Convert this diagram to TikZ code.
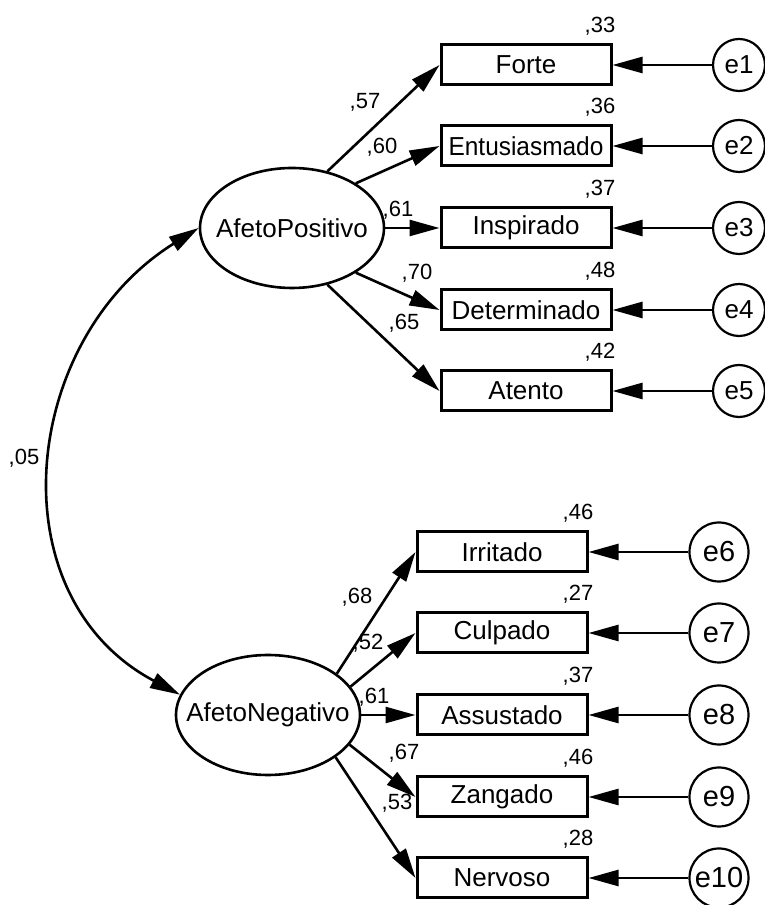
\documentclass[tikz,border=0pt]{standalone}
\usepackage{fontspec}
\setmainfont{Liberation Sans}
\usepackage{graphicx}
\usetikzlibrary{shapes.geometric,arrows.meta}

\begin{document}
\begin{tikzpicture}[x=1pt,y=1pt,
  lbl/.style={font=\fontsize{26}{30}\selectfont},
  num/.style={font=\fontsize{22}{26}\selectfont, inner sep=0},
  obs/.style={draw, line width=3pt, minimum width=170pt, minimum height=40pt, inner sep=0, lbl},
  lat/.style={draw, ellipse, line width=2.6pt, minimum width=184pt, minimum height=120pt, inner sep=0,
              label={[lbl]center:#1}},
  errs/.style={draw, circle, line width=2.2pt, minimum size=52pt, inner sep=0,
               label={[lbl]center:#1}},
  errb/.style={draw, circle, line width=2.2pt, minimum size=59pt, inner sep=0,
               label={[font=\fontsize{29}{34}\selectfont]center:#1}},
  tip/.tip={Triangle[length=30pt,width=16pt]},
  load/.style={line width=2.6pt, -tip},
  r2/.style={num, anchor=base east}
]
\useasboundingbox (0,0) rectangle (765,905);

% latent factors
\node[lat=AfetoPositivo] (AP) at (292,677) {};
\node[lat=AfetoNegativo] (AN) at (268,190) {};

% positive affect indicators
\node[obs] (forte)  at (526,840) {Forte};
\node[obs] (entus)  at (526,759) {\scalebox{0.94}[1]{Entusiasmado}};
\node[obs] (insp)   at (526,677) {Inspirado};
\node[obs] (deter)  at (526,595) {Determinado};
\node[obs] (atento) at (526,514) {Atento};

% negative affect indicators
\node[obs] (irrit) at (502,353) {Irritado};
\node[obs] (culp)  at (502,272) {Culpado};
\node[obs] (assus) at (502,190) {Assustado};
\node[obs] (zang)  at (502,108) {Zangado};
\node[obs] (nerv)  at (502,27)  {Nervoso};

% error terms
\node[errs=e1] (e1) at (739,840) {};
\node[errs=e2] (e2) at (739,759) {};
\node[errs=e3] (e3) at (739,677) {};
\node[errs=e4] (e4) at (739,595) {};
\node[errs=e5] (e5) at (739,514) {};
\node[errb=e6]  (e6)  at (719,353) {};
\node[errb=e7]  (e7)  at (719,272) {};
\node[errb=e8]  (e8)  at (719,190) {};
\node[errb=e9]  (e9)  at (719,108) {};
\node[errb=e10] (e10) at (719,27)  {};

% factor loadings
\draw[load] (AP.58)  -- (forte.west);
\draw[load] (AP.35)  -- (entus.west);
\draw[load] (AP.east) -- (insp.west);
\draw[load] (AP.-35) -- (deter.west);
\draw[load] (AP.-58) -- (atento.west);
\draw[load] (AN.31)  -- (irrit.west);
\draw[load] (AN.19)  -- (culp.west);
\draw[load] (AN.east) -- (assus.west);
\draw[load] (AN.-20) -- (zang.west);
\draw[load] (AN.-32) -- (nerv.west);

% residual paths
\draw[load] (e1) -- (forte.east);
\draw[load] (e2) -- (entus.east);
\draw[load] (e3) -- (insp.east);
\draw[load] (e4) -- (deter.east);
\draw[load] (e5) -- (atento.east);
\draw[load] (e6) -- (irrit.east);
\draw[load] (e7) -- (culp.east);
\draw[load] (e8) -- (assus.east);
\draw[load] (e9) -- (zang.east);
\draw[load] (e10) -- (nerv.east);

% factor covariance
\draw[line width=2.6pt, tip-tip]
  (AN.167) to[out=152,in=-148,looseness=1.15] (AP.west);

% standardized estimates
\node[num] (l1)  at (365,803) {,57};
\node[num] (l2)  at (382,758) {,60};
\node[num] (l3)  at (398,695) {,61};
\node[num] (l4)  at (417,632) {,70};
\node[num] (l5)  at (404,582) {,65};
\node[num] (l6)  at (357,308) {,68};
\node[num] (l7)  at (368,262) {,52};
\node[num] (l8)  at (374,208) {,61};
\node[num] (l9)  at (404,152) {,67};
\node[num] (l10) at (397,102) {,53};
\node[num] (cov) at (24,447)  {,05};

% squared multiple correlations
\node[r2] (s1)  at ([xshift=3pt,yshift=11pt]forte.north east)  {,33};
\node[r2] (s2)  at ([xshift=3pt,yshift=11pt]entus.north east)  {,36};
\node[r2] (s3)  at ([xshift=3pt,yshift=11pt]insp.north east)   {,37};
\node[r2] (s4)  at ([xshift=3pt,yshift=11pt]deter.north east)  {,48};
\node[r2] (s5)  at ([xshift=3pt,yshift=11pt]atento.north east) {,42};
\node[r2] (s6)  at ([xshift=5pt,yshift=11pt]irrit.north east)  {,46};
\node[r2] (s7)  at ([xshift=5pt,yshift=11pt]culp.north east)   {,27};
\node[r2] (s8)  at ([xshift=5pt,yshift=11pt]assus.north east)  {,37};
\node[r2] (s9)  at ([xshift=5pt,yshift=11pt]zang.north east)   {,46};
\node[r2] (s10) at ([xshift=5pt,yshift=11pt]nerv.north east)   {,28};
\end{tikzpicture}
\end{document}
